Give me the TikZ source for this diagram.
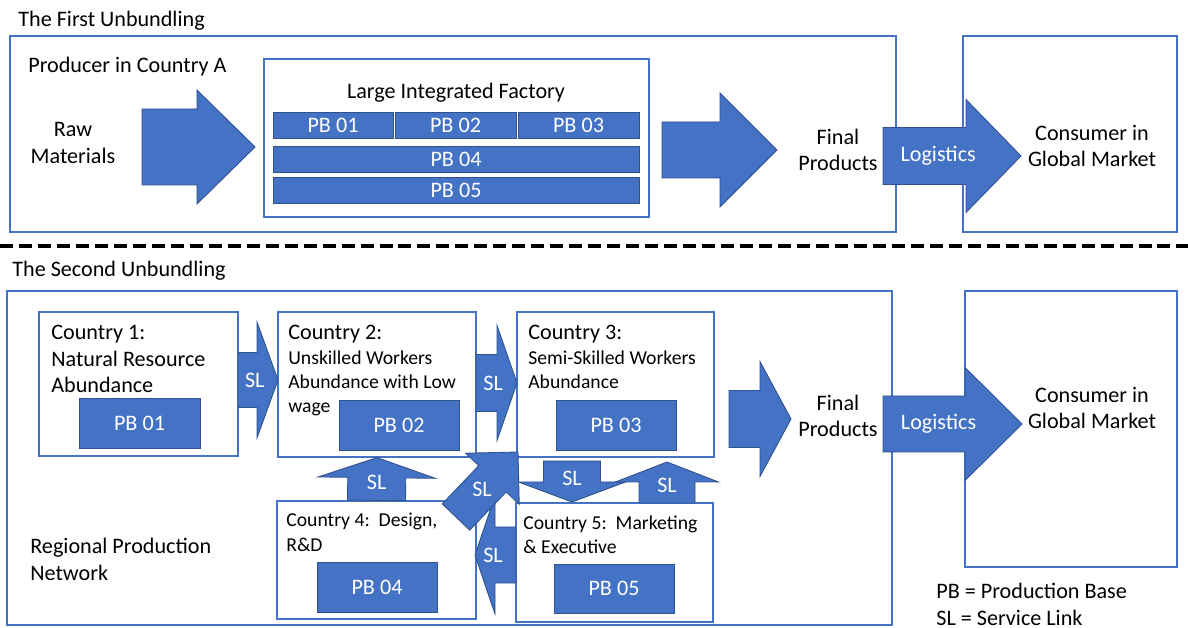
\documentclass[tikz,border=0pt]{standalone}
\usepackage{fontspec}
\setmainfont{Carlito}
\usepackage{tikz}
\usetikzlibrary{positioning,calc,fit}
\definecolor{blockblue}{HTML}{4472C4}
\definecolor{blockedge}{HTML}{2F528F}
\definecolor{boxline}{HTML}{4472C4}

\newcommand{\mainsz}{\fontsize{12.6pt}{15pt}\selectfont}
\newcommand{\smallsz}{\fontsize{11.2pt}{13.9pt}\selectfont}
\newcommand{\pxu}{0.02cm}

% block arrow: from, to, shaft half-width, head half-width, head length (px), label, label pos
\newcommand{\blockarrow}[7]{%
  \coordinate (neck) at ($(#2)!#5*\pxu!(#1)$);
  \filldraw[blockarrow] ($(#1)!#3*\pxu!90:(#2)$) -- ($(neck)!#3*\pxu!90:(#2)$)
    -- ($(neck)!#4*\pxu!90:(#2)$) -- (#2) -- ($(neck)!#4*\pxu!-90:(#2)$)
    -- ($(neck)!#3*\pxu!-90:(#2)$) -- ($(#1)!#3*\pxu!-90:(#2)$) -- cycle;
  \if\relax\detokenize{#6}\relax\else
    \node[arrowtext] at ($(#1)!#7!(#2)$) {#6};
  \fi
}

\begin{document}
\begin{tikzpicture}[x=0.02cm, y=-0.02cm,
  frame/.style={draw=boxline, line width=0.7pt, fill=white, inner sep=0pt},
  pbbox/.style 2 args={fill=blockblue, draw=blockedge, line width=0.5pt, text=white,
                font=\mainsz, inner sep=0pt, minimum width=#1*\pxu, minimum height=#2*\pxu},
  blockarrow/.style={fill=blockblue, draw=blockedge, line width=0.5pt},
  arrowtext/.style={text=white, font=\mainsz, inner sep=0pt},
  lbl/.style={font=\mainsz, inner sep=0pt, align=left},
  sepline/.style={line width=2.3pt, dash pattern=on 7.4pt off 3.4pt},
  ]
  \useasboundingbox (0,0) rectangle (1188,628);

  % ---- the first unbundling ----
  \node[lbl, anchor=base west] (title1) at (18,27) {The First Unbundling};
  \node[frame, fit={(10,36)(896,232)}] (frame1) {};
  \node[frame, fit={(963,36)(1177,232)}] (cons1) {};
  \node[frame, fit={(264,59)(649,217)}] (factory) {};
  \node[lbl, anchor=base west] (producer) at (28,73) {Producer in Country A};
  \node[lbl, anchor=base] (factorylbl) at (456,99) {Large Integrated Factory};
  \node[pbbox={120}{26}] (fpb1) at (333,125) {PB 01};
  \node[pbbox={121}{26}] (fpb2) at (455.5,125) {PB 02};
  \node[pbbox={121}{26}] (fpb3) at (578.5,125) {PB 03};
  \node[pbbox={366}{26}] (fpb4) at (456,159) {PB 04};
  \node[pbbox={366}{26}] (fpb5) at (456,190) {PB 05};
  \node[lbl, align=center] (raw) at (73,143) {Raw\\Materials};
  \node[lbl, align=center] (final1) at (838,150) {Final\\Products};
  \node[lbl, align=center] (market1) at (1092,146) {Consumer in\\Global Market};

  \coordinate (rawtail) at (142,147);
  \coordinate (rawtip) at (255,147);
  \coordinate (fin1tail) at (662,150);
  \coordinate (fin1tip) at (777,150);
  \coordinate (log1tail) at (883,156);
  \coordinate (log1tip) at (1021,156);
  \blockarrow{rawtail}{rawtip}{38}{57}{58}{}{0.5}
  \blockarrow{fin1tail}{fin1tip}{28}{57}{57}{}{0.5}
  \blockarrow{log1tail}{log1tip}{28.5}{56.5}{55}{Logistics}{0.4}

  \draw[sepline] (0,246) -- (1188,246);

  % ---- the second unbundling ----
  \node[lbl, anchor=base west] (title2) at (12,277) {The Second Unbundling};
  \node[frame, fit={(7,291)(892,625)}] (frame2) {};
  \node[frame, fit={(965,291)(1177,567)}] (cons2) {};
  \node[frame, fit={(39,312)(238,456)}] (c1) {};
  \node[frame, fit={(278,312)(476,457)}] (c2) {};
  \node[frame, fit={(517,312)(714,457)}] (c3) {};
  \node[frame, fit={(277,501)(476,619)}] (c4) {};
  \node[frame, fit={(516,503)(713,622)}] (c5) {};

  \node[lbl, anchor=north west] (c1text) at (51,325) {Country 1:\\Natural Resource\\Abundance};
  \node[lbl, anchor=north west, font=\smallsz] (c2text) at (288,325)
       {{\mainsz Country 2:}\\Unskilled Workers\\Abundance with Low\\wage};
  \node[lbl, anchor=north west, font=\smallsz] (c3text) at (528,325)
       {{\mainsz Country 3:}\\Semi-Skilled Workers\\Abundance};
  \node[lbl, anchor=north west, font=\smallsz] (c4text) at (286,513) {Country 4:\ \ Design,\\R\&D};
  \node[lbl, anchor=north west, font=\smallsz] (c5text) at (523,515) {Country 5:\ \ Marketing\\\& Executive};

  \node[pbbox={121}{50}] (pb1) at (139.5,423) {PB 01};
  \node[pbbox={120}{50}] (pb2) at (399,425) {PB 02};
  \node[pbbox={120}{50}] (pb3) at (616,425) {PB 03};
  \node[pbbox={120}{50}] (pb4) at (377,587) {PB 04};
  \node[pbbox={120}{49}] (pb5) at (614,588.5) {PB 05};

  \node[lbl, align=center] (final2) at (838,416) {Final\\Products};
  \node[lbl, align=center] (market2) at (1092,408) {Consumer in\\Global Market};
  \node[lbl, anchor=north west] (network) at (30,538) {Regional Production\\Network};
  \node[lbl, anchor=north west] (legend) at (936,583) {PB = Production Base\\SL = Service Link};

  % service links
  \coordinate (s12a) at (238,380);
  \coordinate (s12b) at (278,380);
  \coordinate (s23a) at (476,383);
  \coordinate (s23b) at (517,383);
  \coordinate (s35a) at (572,461);
  \coordinate (s35b) at (572,502);
  \coordinate (s53a) at (667,503);
  \coordinate (s53b) at (667,462);
  \coordinate (s43a) at (456,517);
  \coordinate (s43b) at (518,452);
  \coordinate (s54a) at (516,555);
  \coordinate (s54b) at (475,555);
  \blockarrow{s12a}{s12b}{27.5}{58}{21}{SL}{0.42}
  \blockarrow{s23a}{s23b}{28.5}{57.5}{20}{SL}{0.42}
  \blockarrow{c4.north}{c2.south}{29}{58.5}{20}{SL}{0.42}
  \blockarrow{s35a}{s35b}{28.5}{53.5}{20}{SL}{0.42}
  \blockarrow{s53a}{s53b}{28}{51.5}{20}{SL}{0.42}
  \blockarrow{s54a}{s54b}{28}{59}{20}{SL}{0.56}
  \blockarrow{s43a}{s43b}{19}{37}{37}{SL}{0.42}

  % to the market
  \coordinate (fin2tail) at (729,419);
  \coordinate (fin2tip) at (791,419);
  \coordinate (log2tail) at (883,424);
  \coordinate (log2tip) at (1022,424);
  \blockarrow{fin2tail}{fin2tip}{28.5}{57.5}{31}{}{0.5}
  \blockarrow{log2tail}{log2tip}{28}{56.5}{57}{Logistics}{0.4}
\end{tikzpicture}
\end{document}
